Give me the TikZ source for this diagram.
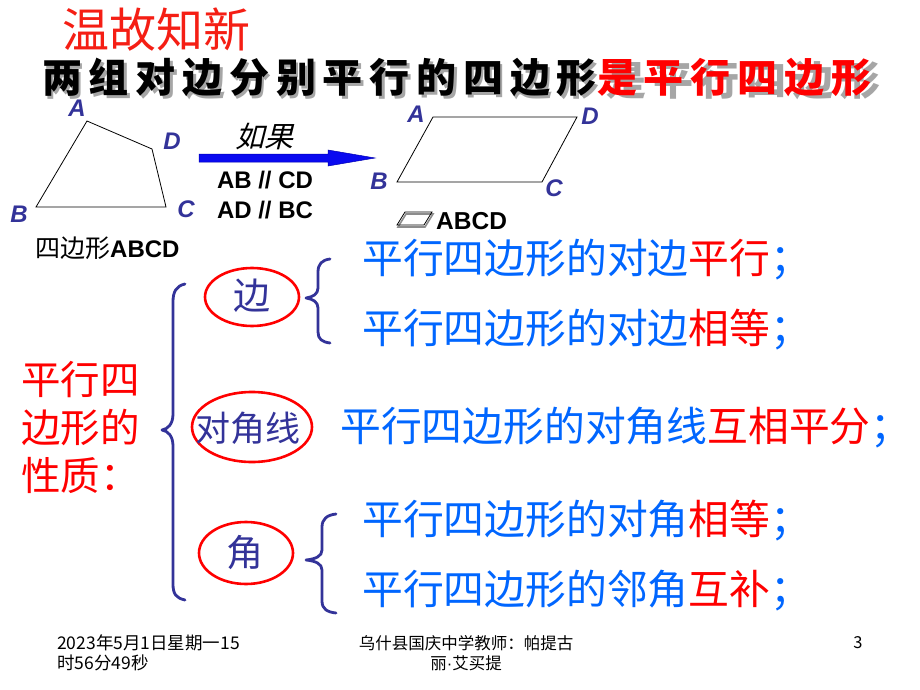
\documentclass[tikz,border=0pt]{standalone}
\usepackage{fontspec}
\setmainfont{Liberation Sans}
\newfontfamily\cjk{Noto Sans CJK SC}
\newfontfamily\cjkit[FakeSlant=0.25]{Noto Sans CJK SC}
\newfontfamily\cjkwide[LetterSpace=17]{Noto Sans CJK SC}
\definecolor{navy}{RGB}{51,51,153}
\definecolor{tblue}{RGB}{0,102,255}
\definecolor{tred}{RGB}{255,0,0}
\definecolor{titlered}{RGB}{245,30,20}
\definecolor{arrowblue}{RGB}{10,10,240}
\tikzset{
  lab/.style={font=\fontsize{24}{26}\selectfont\bfseries\itshape, text=navy, inner sep=0pt},
  outline/.style={draw=black, line width=0.8pt, line join=miter},
  prop/.style={anchor=west, inner sep=0pt, font=\cjk\fontsize{40.8}{42}\selectfont, text=tblue},
  oval/.style={draw=tred, line width=2.6pt},
  brace/.style={draw=navy, line width=2.8pt, line cap=round, line join=round},
  foot/.style={inner sep=0pt, font=\cjk\fontsize{16.5}{20}\selectfont, text=black},
  key/.style={inner sep=0pt, font=\cjk\fontsize{37}{39}\selectfont, text=navy},
  thmtext/.style={anchor=base west, inner sep=0pt, text depth=0pt, font=\cjkwide\fontsize{40}{42}\selectfont\bfseries}
}
\begin{document}
\begin{tikzpicture}[x=1pt,y=-1pt]
\useasboundingbox[fill=white] (0,0) rectangle (920,690);

% title
\node[anchor=west, inner sep=0pt, text=titlered, font=\cjk\fontsize{47}{49}\selectfont] (title) at (62,30) {温故知新};

% theorem line with shadow
\node[thmtext, text=black!35] (thmshadow) at (44.5,95.5) {两组对边分别平行的四边形是平行四边形};
\node[thmtext] (thm) at (42,93) {两组对边分别平行的四边形\textcolor{tred}{是平行四边形}};

% quadrilateral
\coordinate (qA) at (87,121);
\coordinate (qD) at (152,149);
\coordinate (qC) at (166,207);
\coordinate (qB) at (36,207);
\draw[outline] (qA) -- (qD) -- (qC) -- (qB) -- cycle;
\node[lab] (lA) at (77,108) {A};
\node[lab] (lD) at (172,141) {D};
\node[lab] (lC) at (186,209) {C};
\node[lab] (lB) at (19,214) {B};
\node[anchor=west, inner sep=0pt] (qname) at (35,248) {\cjk\fontsize{25}{27}\selectfont 四边形\fontsize{24}{26}\selectfont\rmfamily\bfseries ABCD};

% arrow
\coordinate (ar0) at (199,158);
\coordinate (ar1) at (375,158);
\fill[arrowblue, draw=blue!70!black, line width=0.5pt] (199,154) -- (328,154) -- (328,150) -- (ar1) -- (328,166) -- (328,162) -- (199,162) -- cycle;
\node[inner sep=0pt, font=\cjkit\fontsize{29}{31}\selectfont] (ifw) at (264,137) {如果};
\node[inner sep=0pt, font=\fontsize{24}{26}\selectfont\bfseries] (c1) at (265,180) {AB // CD};
\node[inner sep=0pt, font=\fontsize{24}{26}\selectfont\bfseries] (c2) at (265,210) {AD // BC};

% parallelogram
\coordinate (pA) at (433,117);
\coordinate (pD) at (577,117);
\coordinate (pC) at (542,182);
\coordinate (pB) at (397,182);
\draw[outline] (pA) -- (pD) -- (pC) -- (pB) -- cycle;
\node[lab] (mA) at (416,114) {A};
\node[lab] (mD) at (590,116) {D};
\node[lab] (mB) at (379,181) {B};
\node[lab] (mC) at (554,188) {C};
\draw[black!45, line width=1.6pt] (398,227) -- (406,214) -- (433,214) -- (425,227) -- cycle;
\draw[black, line width=0.8pt] (397,225) -- (405,212) -- (432,212) -- (424,225) -- cycle;
\node[anchor=west, inner sep=0pt, font=\fontsize{24.5}{26}\selectfont\bfseries] (pname) at (436,221) {ABCD};

% left heading
\node[anchor=north west, inner sep=0pt, align=left, text=tred, font=\cjk\fontsize{39.5}{48}\selectfont] (head) at (21,361) {平行四\\边形的\\性质：};

% big brace
\draw[brace] (185,284) .. controls (176,286) and (173,292) .. (173,302) -- (173,414) .. controls (173,424) and (168,429) .. (162,430) .. controls (168,431) and (173,436) .. (173,446) -- (173,584) .. controls (173,594) and (176,598) .. (185,600);

% ovals and keys
\draw[oval] (252,297) ellipse [x radius=47pt, y radius=29pt];
\node[key] (k1) at (252,296) {边};
\draw[oval] (252,427) ellipse [x radius=60pt, y radius=35pt];
\node[key, font=\cjk\fontsize{35}{37}\selectfont] (k2) at (248,428) {对角线};
\draw[oval] (246,553) ellipse [x radius=47pt, y radius=31pt];
\node[key] (k3) at (245,553) {角};

% small braces
\draw[brace] (330,259) .. controls (322,260) and (318,264) .. (318,272) -- (318,288) .. controls (318,294) and (313,297) .. (306,298) .. controls (313,299) and (318,302) .. (318,308) -- (318,332) .. controls (318,339) and (322,342) .. (330,343);
\draw[brace] (336,514) .. controls (327,515) and (322,519) .. (322,527) -- (322,550) .. controls (322,556) and (316,559) .. (306,560) .. controls (316,561) and (322,564) .. (322,570) -- (322,601) .. controls (322,609) and (327,612) .. (336,613);

% properties
\node[prop] (p1) at (362,260) {平行四边形的对边\textcolor{tred}{平行}；};
\node[prop] (p2) at (362,330) {平行四边形的对边\textcolor{tred}{相等}；};
\node[prop] (p3) at (340,428) {平行四边形的对角线\textcolor{tred}{互相平分}；};
\node[prop] (p4) at (362,521) {平行四边形的对角\textcolor{tred}{相等}；};
\node[prop] (p5) at (362,591) {平行四边形的邻角\textcolor{tred}{互补}；};

% footer
\node[foot, anchor=west, font=\cjk\fontsize{17.5}{20}\selectfont] (f1) at (57,643) {2023年5月1日星期一15};
\node[foot, anchor=west, font=\cjk\fontsize{17.5}{20}\selectfont] (f2) at (57,663) {时56分49秒};
\node[foot] (f3) at (466,643) {乌什县国庆中学教师：帕提古};
\node[foot] (f4) at (466,663) {丽{\rmfamily ·}艾买提};
\node[foot] (f5) at (858,643) {3};
\end{tikzpicture}
\end{document}
